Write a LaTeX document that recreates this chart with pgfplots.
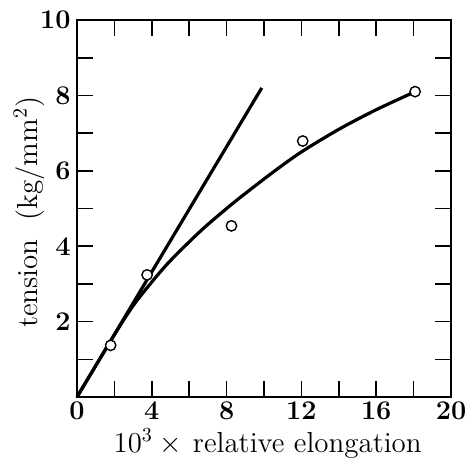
\documentclass[border=0pt]{standalone}
\usepackage{pgfplots}
\pgfplotsset{compat=1.18}
\begin{document}
\begin{tikzpicture}
\path[use as bounding box] (-38.5pt,-30pt) rectangle (194pt,198.5pt);
\begin{axis}[
  at={(0,0)}, anchor=south west,
  scale only axis,
  width=187pt, height=188.5pt,
  xmin=0, xmax=20, ymin=0, ymax=10,
  xtick={0,2,...,20},
  xticklabels={0,,4,,8,,12,,16,,20},
  ytick={1,...,10},
  yticklabels={,2,,4,,6,,8,,10},
  tick pos=both,
  tick align=inside,
  major tick length=8pt,
  axis line style={line width=1pt},
  every tick/.style={black, line width=0.8pt},
  tick label style={font=\fontsize{13.5}{15}\selectfont\bfseries\boldmath, inner sep=1pt},
  label style={font=\fontsize{14.5}{17}\selectfont, inner sep=1pt},
  xticklabel style={yshift=-1pt},
  yticklabel style={xshift=-2pt},
  xlabel={$10^3\times{}$\,relative elongation},
  ylabel={tension\ \ (kg/mm$^2$)},
  xlabel style={at={(axis description cs:0.51,0)}, anchor=base, yshift=-27.5pt},
  ylabel style={at={(axis description cs:0,0.49)}, anchor=base, yshift=20pt},
  clip=false,
]
\addplot[black, line width=1.6pt] coordinates {(0,0) (9.88,8.2)};
\addplot[black, line width=1.6pt, smooth, tension=0.5] coordinates {
(0,0) (2,1.65) (3,2.42) (4,3.05) (5,3.62) (6.6,4.4) (8,5.0) (8.9,5.36)
(10.5,5.97) (12,6.5) (14,7.1) (16,7.62) (18,8.08)};
\addplot[only marks, mark=*, mark size=2.6pt, mark options={fill=white, draw=black, line width=0.7pt}] coordinates {
(1.8,1.37) (3.75,3.24) (8.26,4.54) (12.07,6.79) (18.08,8.1)};
\end{axis}
\end{tikzpicture}
\end{document}
